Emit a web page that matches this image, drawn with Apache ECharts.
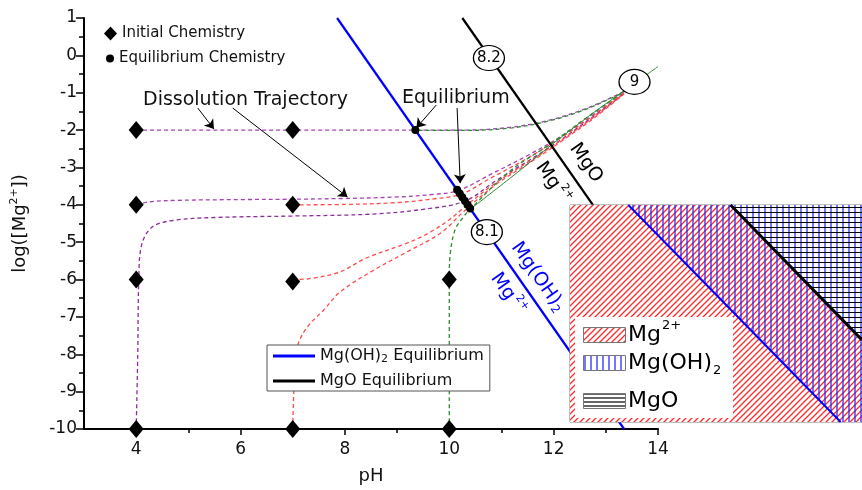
<!DOCTYPE html>
<html><head><meta charset="utf-8">
<script src="https://cdn.jsdelivr.net/npm/echarts@6/dist/echarts.min.js"></script>
<style>html,body{margin:0;padding:0;background:#fff}#c{width:862px;height:490px}</style>
</head><body><div id="c"></div>
<script>
const FONT = 'DejaVu Sans';

// ---------- data ----------
const xMajorTicks = [4, 6, 8, 10, 12, 14];
const xMinorTicks = [5, 7, 9, 11, 13];

// Initial chemistry (diamonds)
const initialPH    = [4, 7, 4, 7, 4, 7, 10, 4, 7, 10];
const initialLogMg = [-2, -2, -4, -4, -6, -6.05, -6, -10, -10, -10];

// Equilibrium chemistry (dots)
const equilPH    = [9.35, 10.15, 10.2, 10.25, 10.3, 10.35, 10.4];
const equilLogMg = [-2, -3.6, -3.7, -3.8, -3.9, -4.0, -4.1];

// Equilibrium boundaries
const mgoh2LinePH = [7.85, 13.35];
const mgoh2LineLogMg = [1, -10];
const mgoLinePH = [10.25, 14];
const mgoLineLogMg = [1, -6.5];

// pH markers on the lines
const pHMarkLabels = ['8.2', '8.1', '9'];
const pHMarkPH     = [10.76, 10.72, 13.55];
const pHMarkLogMg  = [-0.07, -4.73, -0.71];

// Dissolution trajectories [pH, log Mg]
const trajPurpleA = [[4,-2],[5.5,-2],[7,-2],[8.5,-2],[9.35,-2],[10.3,-2],[11.2,-1.92],[11.9,-1.74],[12.55,-1.46],[13.2,-1.07],[13.45,-0.88]];
const trajGreenA  = [[9.35,-2.01],[10.3,-2.01],[11.2,-1.94],[11.9,-1.76],[12.55,-1.48],[13.2,-1.08],[13.45,-0.89]];
const trajPurpleB = [[4,-4],[4.25,-3.92],[4.8,-3.88],[6,-3.86],[7,-3.85],[8,-3.83],[9,-3.79],[9.7,-3.72],[10.17,-3.62],[10.8,-3.18],[11.5,-2.68],[12.2,-2.12],[12.8,-1.55],[13.35,-1.0]];
const trajRedB    = [[7,-4],[8,-3.99],[9,-3.94],[9.7,-3.84],[10.22,-3.72],[10.8,-3.28],[11.5,-2.75],[12.2,-2.15],[12.8,-1.57],[13.35,-1.0]];
const trajPurpleC = [[4,-10],[4.03,-8],[4.05,-6],[4.1,-5.1],[4.3,-4.6],[4.7,-4.42],[5.5,-4.34],[7,-4.3],[8.5,-4.25],[9.5,-4.12],[10.3,-3.9],[10.9,-3.35],[11.6,-2.75],[12.2,-2.2],[12.8,-1.6],[13.35,-1.02]];
const trajRedC    = [[7,-6],[7.3,-5.98],[7.9,-5.8],[8.4,-5.43],[9.2,-5.02],[9.6,-4.76],[10,-4.4],[10.3,-4.05],[10.9,-3.4],[11.6,-2.78],[12.2,-2.22],[12.8,-1.62],[13.35,-1.02]];
const trajRedD    = [[7,-10],[7.02,-9],[7.05,-8.2],[7.11,-7.7],[7.28,-7.27],[7.59,-6.82],[7.91,-6.33],[8.55,-5.75],[9.19,-5.26],[9.83,-4.76],[10.3,-4.15],[10.9,-3.45],[11.6,-2.82],[12.2,-2.25],[12.8,-1.65],[13.35,-1.03]];
const trajGreenD  = [[10,-10],[10,-8],[10,-6],[10.02,-5.3],[10.11,-4.67],[10.27,-4.33],[10.4,-4.12],[11.16,-3.1],[11.93,-2.38],[12.6,-1.7],[13.3,-1.02]];
const trajGreenSolid = [[10.4,-4.12],[11.2,-3.25],[12,-2.35],[12.7,-1.6],[13.3,-1.0],[14,-0.3]];

// Annotation arrows [start, end] in [pH, log Mg]
const arrowLines = [
  [[5.18,-1.41],[5.49,-1.97]],
  [[5.85,-1.41],[8.05,-3.79]],
  [[9.75,-1.33],[9.37,-1.94]],
  [[10.15,-1.41],[10.21,-3.42]]
];

// Inset phase diagram (abstract units, x 0..13.82, y 0..10)
const insetXMax = 13.82, insetYMax = 10;
const insetAll   = [[0,10],[13.82,10]];
const insetMgOH2 = [[2.76,10],[12.81,0],[13.82,0]];
const insetMgO   = [[7.6,10],[13.82,3.78]];
const insetMgOH2Line = [[2.76,10],[12.81,0]];
const insetMgOLine   = [[7.6,10],[13.82,3.78]];

// ---------- patterns ----------
function mk(w, h, fn) { const c = document.createElement('canvas'); c.width = w; c.height = h; const x = c.getContext('2d'); fn(x, w, h); return c; }
const redDiag = mk(6, 6, (x) => {
  x.fillStyle = '#fff'; x.fillRect(0,0,6,6);
  x.strokeStyle = '#ff2a2a'; x.lineWidth = 1.3; x.beginPath();
  x.moveTo(-1,7); x.lineTo(7,-1); x.moveTo(-4,4); x.lineTo(4,-4); x.moveTo(2,10); x.lineTo(10,2); x.stroke();
});
const blueVert = mk(6, 6, (x) => {
  x.strokeStyle = '#1a1aff'; x.lineWidth = 1.2; x.beginPath(); x.moveTo(3,0); x.lineTo(3,6); x.stroke();
});
const mgoGrid = mk(6, 5, (x) => {
  x.fillStyle = '#fff'; x.fillRect(0,0,6,5);
  x.strokeStyle = '#1a1aff'; x.lineWidth = 1.2; x.beginPath(); x.moveTo(3,0); x.lineTo(3,5); x.stroke();
  x.strokeStyle = '#000'; x.lineWidth = 1; x.beginPath(); x.moveTo(0,2.5); x.lineTo(6,2.5); x.stroke();
});
const blueVertW = mk(6, 6, (x) => {
  x.fillStyle = '#fff'; x.fillRect(0,0,6,6);
  x.strokeStyle = '#1a1aff'; x.lineWidth = 1.2; x.beginPath(); x.moveTo(3,0); x.lineTo(3,6); x.stroke();
});
const blackHoriz = mk(4, 4, (x) => {
  x.fillStyle = '#fff'; x.fillRect(0,0,4,4);
  x.strokeStyle = '#000'; x.lineWidth = 1.2; x.beginPath(); x.moveTo(0,2); x.lineTo(4,2); x.stroke();
});
const pat = (c) => ({ image: c, repeat: 'repeat' });

// ---------- helpers ----------
const PURPLE = '#a640b5', RED = '#ff4a4a', GREEN = '#2e8b2e';
function traj(data, color, offset) {
  return { type: 'line', data: data, smooth: 0.35, symbol: 'none', silent: true, z: 2,
    lineStyle: { color: color, width: 1.3, type: [4, 3], dashOffset: offset || 0 } };
}
function insetArea(data, fill, origin, z) {
  return { type: 'line', xAxisIndex: 2, yAxisIndex: 1, data: data, symbol: 'none', silent: true, z: z,
    lineStyle: { opacity: 0, width: 0 }, areaStyle: { color: fill, origin: origin, opacity: 1 } };
}
const ellipse = 'path://M0,50 A50,50 0 1,0 100,50 A50,50 0 1,0 0,50 Z';

const chart = echarts.init(document.getElementById('c'), null, { renderer: 'canvas' });
const option = {
  animation: false,
  backgroundColor: '#fff',
  textStyle: { fontFamily: FONT },
  grid: [
    { left: 84, top: 18, right: 204, bottom: 61 },
    { left: 570, top: 205, width: 300, height: 217, show: true, borderColor: '#808080', borderWidth: 1, backgroundColor: '#fff', z: 5 }
  ],
  xAxis: [
    { type: 'value', gridIndex: 0, min: 3, max: 14, name: 'pH', nameLocation: 'middle', nameGap: 38,
      nameTextStyle: { fontSize: 18, color: '#111', fontFamily: FONT },
      axisLine: { onZero: false, lineStyle: { color: '#000', width: 2 } },
      axisTick: { show: true, inside: false, length: 6, customValues: xMajorTicks, lineStyle: { color: '#000', width: 1.5 } },
      axisLabel: { customValues: xMajorTicks, margin: 12, fontSize: 17, color: '#111', fontFamily: FONT },
      splitLine: { show: false } },
    { type: 'value', gridIndex: 0, min: 3, max: 14, position: 'bottom',
      axisLine: { show: false, onZero: false }, axisLabel: { show: false }, splitLine: { show: false },
      axisTick: { show: true, length: 4, customValues: xMinorTicks, lineStyle: { color: '#000', width: 1.5 } } },
    { type: 'value', gridIndex: 1, min: 0, max: insetXMax, show: false }
  ],
  yAxis: [
    { type: 'value', gridIndex: 0, min: -10, max: 1, interval: 1,
      name: '{a|log([Mg}{s|2+}{a|])}', nameLocation: 'middle', nameGap: 52,
      nameTextStyle: { color: '#111', rich: {
        a: { fontSize: 18, fontFamily: FONT, color: '#111' },
        s: { fontSize: 11, fontFamily: FONT, color: '#111', padding: [0, 0, 12, 0] } } },
      axisLine: { show: true, onZero: false, lineStyle: { color: '#000', width: 2 } },
      axisTick: { show: true, length: 8, lineStyle: { color: '#000', width: 1.5 } },
      minorTick: { show: true, splitNumber: 2, length: 5, lineStyle: { color: '#000', width: 1.5 } },
      axisLabel: { margin: 7, fontSize: 17, color: '#111', fontFamily: FONT },
      splitLine: { show: false } },
    { type: 'value', gridIndex: 1, min: 0, max: insetYMax, show: false }
  ],
  legend: [
    { data: ['Initial Chemistry'], left: 104, top: 26, padding: 0, icon: 'diamond', itemWidth: 13, itemHeight: 14,
      itemStyle: { color: '#000', opacity: 1 },
      textStyle: { fontSize: 15, fontFamily: FONT, color: '#111', lineHeight: 14 }, selectedMode: false },
    { data: ['Equilibrium Chemistry'], left: 106, top: 51, padding: 0, icon: 'circle', itemWidth: 8, itemHeight: 8,
      itemStyle: { color: '#000', opacity: 1 },
      textStyle: { fontSize: 15, fontFamily: FONT, color: '#111', lineHeight: 8 }, selectedMode: false },
    { data: ['Mg(OH)2 Equilibrium', 'MgO Equilibrium'], orient: 'vertical', left: 267, top: 345,
      padding: [3, 6, 2, 6], itemGap: 8, itemWidth: 42, itemHeight: 3, icon: 'rect',
      backgroundColor: '#fff', borderColor: '#555', borderWidth: 1, selectedMode: false,
      formatter: (n) => n === 'Mg(OH)2 Equilibrium' ? '{a|Mg(OH)}{b|2}{a| Equilibrium}' : '{a|' + n + '}',
      textStyle: { fontFamily: FONT, fontSize: 16, color: '#111', rich: {
        a: { fontFamily: FONT, fontSize: 16, color: '#111', lineHeight: 18 },
        b: { fontFamily: FONT, fontSize: 11, color: '#111', padding: [7, 0, 0, 0] } } } }
  ],
  series: [
    traj(trajPurpleA, PURPLE),
    traj(trajGreenA, GREEN, 3.5),
    traj(trajPurpleB, PURPLE),
    traj(trajRedB, RED),
    traj(trajPurpleC, '#8f2a9e'),
    traj(trajRedC, RED),
    traj(trajRedD, RED),
    traj(trajGreenD, GREEN),
    { type: 'line', data: trajGreenSolid, smooth: 0.3, symbol: 'none', silent: true, z: 2,
      lineStyle: { color: GREEN, width: 1 } },
    { name: 'Mg(OH)2 Equilibrium', type: 'line', symbol: 'none', z: 3, silent: true,
      data: mgoh2LinePH.map((p, i) => [p, mgoh2LineLogMg[i]]),
      itemStyle: { color: '#0000ff' }, lineStyle: { color: '#0000ff', width: 2.2 } },
    { name: 'MgO Equilibrium', type: 'line', symbol: 'none', z: 3, silent: true,
      data: mgoLinePH.map((p, i) => [p, mgoLineLogMg[i]]),
      itemStyle: { color: '#000' }, lineStyle: { color: '#000', width: 2.2 } },
    { name: 'Initial Chemistry', type: 'scatter', symbol: 'diamond', symbolSize: [15, 18], z: 4, silent: true,
      itemStyle: { color: '#000', opacity: 1 }, data: initialPH.map((p, i) => [p, initialLogMg[i]]) },
    { name: 'Equilibrium Chemistry', type: 'scatter', symbol: 'circle', symbolSize: 8, z: 4, silent: true,
      itemStyle: { color: '#000', opacity: 1 }, data: equilPH.map((p, i) => [p, equilLogMg[i]]),
      markLine: { silent: true, symbol: ['none', 'arrow'], symbolSize: 9, label: { show: false },
        lineStyle: { color: '#000', width: 1, type: 'solid', opacity: 1 }, emphasis: { disabled: true },
        data: arrowLines.map(a => [{ coord: a[0] }, { coord: a[1] }]) } },
    { type: 'scatter', symbol: ellipse, symbolKeepAspect: false, symbolSize: [31, 25], z: 5, silent: true,
      itemStyle: { color: '#fff', borderColor: '#000', borderWidth: 1.2, opacity: 1 },
      label: { show: true, position: 'inside', formatter: (p) => p.data[2], fontSize: 15, fontFamily: FONT, color: '#000', textBorderWidth: 0 },
      data: pHMarkPH.map((p, i) => [p, pHMarkLogMg[i], pHMarkLabels[i]]) },
    insetArea(insetAll, pat(redDiag), 'start', 6),
    insetArea(insetMgOH2, pat(blueVert), 'end', 7),
    insetArea(insetMgO, pat(mgoGrid), 'end', 8),
    { type: 'line', xAxisIndex: 2, yAxisIndex: 1, data: insetMgOH2Line, symbol: 'none', silent: true, z: 9,
      lineStyle: { color: '#0000ff', width: 2 } },
    { type: 'line', xAxisIndex: 2, yAxisIndex: 1, data: insetMgOLine, symbol: 'none', silent: true, z: 9,
      lineStyle: { color: '#000', width: 3 } }
  ],
  graphic: [
    { type: 'text', x: 143, y: 100, z: 50, style: { text: 'Dissolution Trajectory', fontSize: 19, fontFamily: FONT, fill: '#111', align: 'left', verticalAlign: 'middle' } },
    { type: 'text', x: 402, y: 98, z: 50, style: { text: 'Equilibrium', fontSize: 19, fontFamily: FONT, fill: '#111', align: 'left', verticalAlign: 'middle' } },
    { type: 'text', x: 586, y: 163, rotation: -0.96, z: 50, style: { text: 'MgO', fontSize: 19, fontFamily: FONT, fill: '#000', align: 'center', verticalAlign: 'middle' } },
    { type: 'text', x: 553, y: 183, rotation: -0.96, z: 50, style: { text: '{a|Mg}{s|2+}', align: 'center', verticalAlign: 'middle',
      rich: { a: { fontSize: 19, fontFamily: FONT, fill: '#000' }, s: { fontSize: 11, fontFamily: FONT, fill: '#000', padding: [0, 0, 14, 2] } } } },
    { type: 'text', x: 538, y: 277, rotation: -0.96, z: 50, style: { text: '{a|Mg(OH)}{b|2}', align: 'center', verticalAlign: 'middle',
      rich: { a: { fontSize: 19, fontFamily: FONT, fill: '#0000ff' }, b: { fontSize: 12, fontFamily: FONT, fill: '#0000ff', padding: [10, 0, 0, 0] } } } },
    { type: 'text', x: 508, y: 294, rotation: -0.96, z: 50, style: { text: '{a|Mg}{s|2+}', align: 'center', verticalAlign: 'middle',
      rich: { a: { fontSize: 19, fontFamily: FONT, fill: '#0000ff' }, s: { fontSize: 11, fontFamily: FONT, fill: '#0000ff', padding: [0, 0, 14, 2] } } } },
    // inset legend
    { type: 'rect', z: 100, shape: { x: 575, y: 317, width: 158, height: 101 }, style: { fill: '#fff' } },
    { type: 'rect', z: 101, shape: { x: 583.5, y: 327.5, width: 42, height: 15 }, style: { fill: pat(redDiag), stroke: '#777', lineWidth: 1 } },
    { type: 'rect', z: 101, shape: { x: 583.5, y: 355.5, width: 42, height: 15 }, style: { fill: pat(blueVertW), stroke: '#777', lineWidth: 1 } },
    { type: 'rect', z: 101, shape: { x: 583.5, y: 393.5, width: 42, height: 15 }, style: { fill: pat(blackHoriz), stroke: '#777', lineWidth: 1 } },
    { type: 'text', x: 628, y: 335, z: 101, style: { text: '{a|Mg}{s|2+}', align: 'left', verticalAlign: 'middle',
      rich: { a: { fontSize: 22, fontFamily: FONT, fill: '#000' }, s: { fontSize: 13, fontFamily: FONT, fill: '#000', padding: [0, 0, 18, 1] } } } },
    { type: 'text', x: 628, y: 363, z: 101, style: { text: '{a|Mg(OH)}{b|2}', align: 'left', verticalAlign: 'middle',
      rich: { a: { fontSize: 22, fontFamily: FONT, fill: '#000' }, b: { fontSize: 13, fontFamily: FONT, fill: '#000', padding: [16, 0, 0, 1] } } } },
    { type: 'text', x: 628, y: 401, z: 101, style: { text: 'MgO', fontSize: 22, fontFamily: FONT, fill: '#000', align: 'left', verticalAlign: 'middle' } }
  ]
};
chart.setOption(option);
</script></body></html>
